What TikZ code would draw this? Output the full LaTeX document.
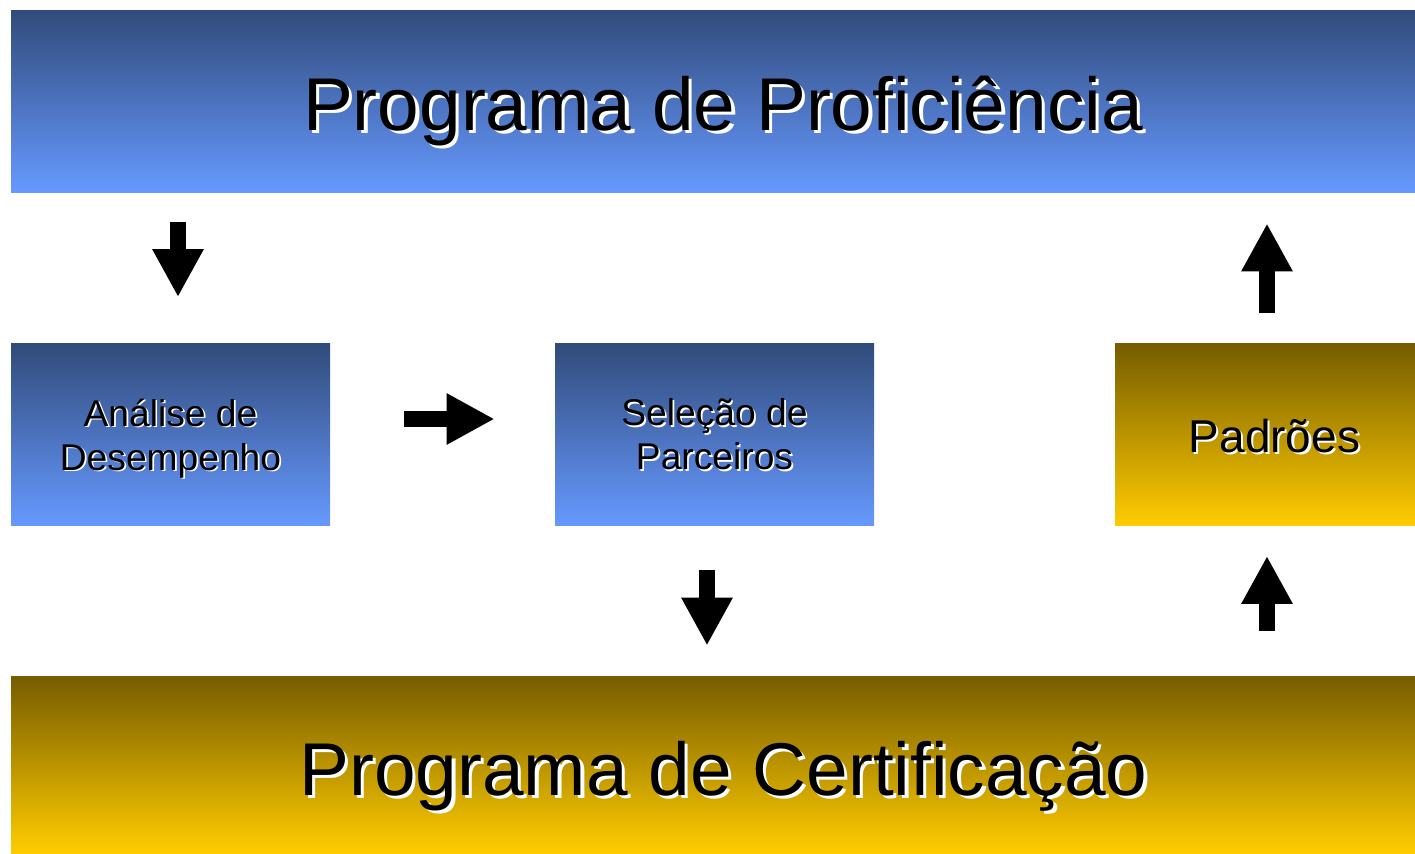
\documentclass[tikz,border=0pt]{standalone}
\usepackage{fontspec}
\setmainfont{Liberation Sans}
\usepackage{tikz}
\usetikzlibrary{arrows.meta}
\definecolor{bluetop}{HTML}{314B7B}
\definecolor{bluebot}{HTML}{6699FF}
\definecolor{goldtop}{HTML}{765C00}
\definecolor{goldbot}{HTML}{FFCC00}
\newcommand\shadowed[1]{\makebox[0pt][l]{\kern0.045em\raisebox{-0.045em}{\color{white}#1}}#1}

\begin{document}
\begin{tikzpicture}[x=0.5pt, y=-0.5pt,
  banner/.style = {inner sep=0, minimum width=702pt},
  box/.style = {inner sep=0, minimum width=159.5pt, minimum height=91pt, align=center,
    text depth=0pt, font=\fontsize{18.6pt}{22pt}\selectfont},
  bluefill/.style = {top color=bluetop, bottom color=bluebot},
  goldfill/.style = {top color=goldtop, bottom color=goldbot},
  titletext/.style = {anchor=base, inner sep=0, font=\fontsize{37.4pt}{44pt}\selectfont},
  blockarrow/.style = {line width=8pt, -{Triangle[length=24pt,width=24pt]}}]
	\useasboundingbox (0,0) rectangle (1415,853);
	\node[banner, bluefill, minimum height=91pt] (prof) at (713, 101){};
	\node[banner, goldfill, minimum height=88.5pt] (cert) at (713, 764.5){};
	\node[titletext] at ([xshift=5pt, yshift=-14.5pt]prof.center){\shadowed{Programa de Proficiência}};
	\node[titletext] at ([xshift=5.25pt, yshift=-15.25pt]cert.center){\shadowed{Programa de Certificação}};
	\node[box, bluefill] (ana) at (170.5, 434.5){\shadowed{Análise de}\\\shadowed{Desempenho}};
	\node[box, bluefill] (sel) at (714.5, 434.5){\shadowed{Seleção de}\\\shadowed{Parceiros}};
	\node[box, goldfill, minimum width=150pt,
	  label={[font=\fontsize{23pt}{28pt}\selectfont, xshift=4.75pt, yshift=-1.5pt]center:\shadowed{Padrões}}] (pad) at (1265, 434.5){};
	\draw[blockarrow, shorten <=15pt, shorten >=23pt] ([xshift=3.75pt]prof.south -| ana.north) -- ([xshift=3.75pt]ana.north);
	\draw[blockarrow, shorten <=37pt, shorten >=30pt] ([yshift=7.75pt]ana.east) -- ([yshift=7.75pt]sel.west);
	\draw[blockarrow, shorten <=22pt, shorten >=15pt] ([xshift=-3.75pt]sel.south) -- ([xshift=-3.75pt]sel.south |- cert.north);
	\draw[blockarrow, shorten <=22.5pt, shorten >=15pt] ([xshift=1pt]pad.south |- cert.north) -- ([xshift=1pt]pad.south);
	\draw[blockarrow, shorten <=15pt, shorten >=15.5pt] ([xshift=1pt]pad.north) -- ([xshift=1pt]pad.north |- prof.south);
\end{tikzpicture}
\end{document}
